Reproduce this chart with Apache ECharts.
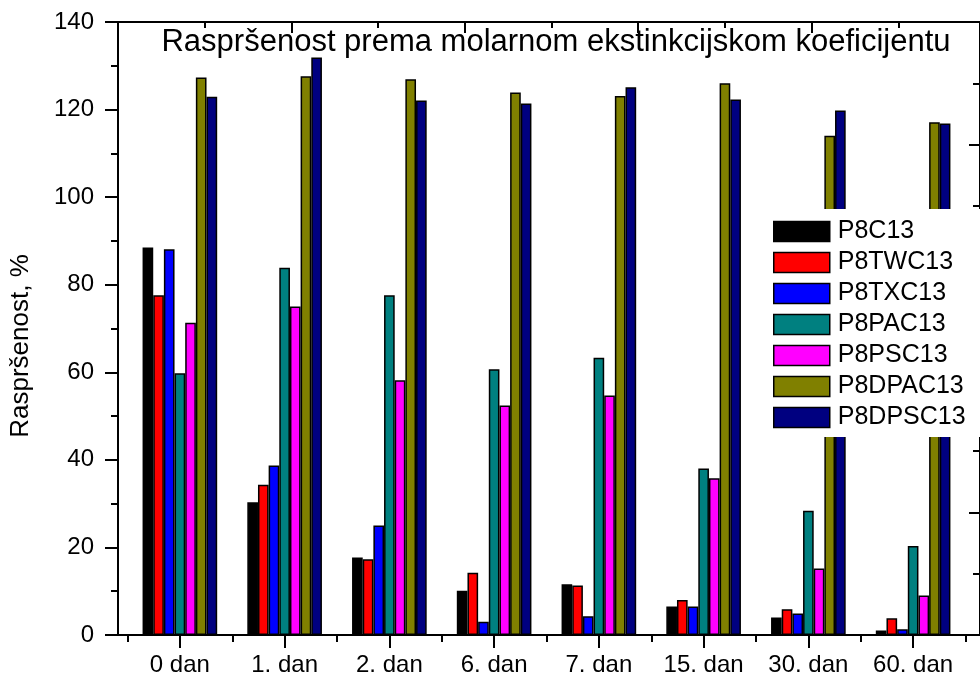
<!DOCTYPE html>
<html>
<head>
<meta charset="utf-8" />
<title>Raspršenost</title>
<script src="https://cdn.jsdelivr.net/npm/echarts@6/dist/echarts.min.js"></script>
<style>
  html, body { margin: 0; padding: 0; background: #fff; }
  #chart { width: 980px; height: 679px; }
</style>
</head>
<body>
<div id="chart"></div>
<script>
// kategorije (dani)
const days = ["0 dan", "1. dan", "2. dan", "6. dan", "7. dan", "15. dan", "30. dan", "60. dan"];

// vrijednosti po uzorku, %
const P8C13 = [88.5, 30.3, 17.7, 10.1, 11.6, 6.5, 4.0, 1.0];
const P8TWC13 = [77.6, 34.3, 17.3, 14.2, 11.3, 8.0, 5.9, 3.8];
const P8TXC13 = [88.1, 38.7, 25.0, 3.0, 4.3, 6.5, 4.9, 1.3];
const P8PAC13 = [59.8, 83.9, 77.6, 60.7, 63.3, 38.0, 28.4, 20.3];
const P8PSC13 = [71.3, 75.0, 58.2, 52.4, 54.7, 35.8, 15.2, 9.0];
const P8DPAC13 = [127.3, 127.6, 126.9, 123.9, 123.1, 126.0, 114.0, 117.1];
const P8DPSC13 = [122.9, 131.9, 122.1, 121.4, 125.1, 122.3, 119.8, 116.8];

const seriesNames = ["P8C13", "P8TWC13", "P8TXC13", "P8PAC13", "P8PSC13", "P8DPAC13", "P8DPSC13"];
const seriesData = [P8C13, P8TWC13, P8TXC13, P8PAC13, P8PSC13, P8DPAC13, P8DPSC13];
const seriesColors = ["#000000", "#ff0000", "#0000ff", "#008080", "#ff00ff", "#808000", "#000080"];

const font = 'Arial, "Liberation Sans", sans-serif';
const axisLine = { show: true, onZero: false, lineStyle: { color: "#000", width: 2 } };
const tickLine = { color: "#000", width: 2 };

const chart = echarts.init(document.getElementById("chart"));

const option = {
  backgroundColor: "#fff",
  animation: false,
  textStyle: { fontFamily: font },
  grid: [
    // okvir (osi) - desna os je malo izvan slike
    { left: 118, right: -3, top: 22, bottom: 44 },
    // stupci
    { left: 127.5, right: 14.5, top: 22, bottom: 44 },
  ],
  xAxis: [
    // gornja os - samo crtice
    {
      gridIndex: 0,
      type: "value",
      position: "top",
      min: 0,
      max: 4.971,
      interval: 1,
      axisLine: axisLine,
      axisTick: { show: true, inside: true, length: 11, lineStyle: tickLine },
      minorTick: { show: true, splitNumber: 2, length: 6, lineStyle: tickLine },
      axisLabel: { show: false },
      splitLine: { show: false },
    },
    // donja linija
    {
      gridIndex: 0,
      type: "value",
      position: "bottom",
      min: 0,
      max: 1,
      axisLine: axisLine,
      axisTick: { show: false },
      axisLabel: { show: false },
      splitLine: { show: false },
    },
    // kratke crtice izmedu kategorija
    {
      gridIndex: 1,
      type: "category",
      position: "bottom",
      data: days,
      axisLine: { show: false, onZero: false },
      axisTick: { show: true, interval: 0, length: 7, lineStyle: tickLine },
      axisLabel: { show: false },
    },
    // duge crtice + nazivi
    {
      gridIndex: 1,
      type: "category",
      position: "bottom",
      data: days,
      axisLine: { show: false, onZero: false },
      axisTick: { show: true, alignWithLabel: true, interval: 0, length: 13, lineStyle: tickLine },
      axisLabel: { interval: 0, color: "#000", fontSize: 24, margin: 18, fontFamily: font },
    },
  ],
  yAxis: [
    // lijeva os
    {
      gridIndex: 0,
      type: "value",
      position: "left",
      min: 0,
      max: 140,
      interval: 20,
      axisLine: axisLine,
      axisTick: { show: true, length: 13, lineStyle: tickLine },
      minorTick: { show: true, splitNumber: 2, length: 7, lineStyle: tickLine },
      axisLabel: { color: "#000", fontSize: 24, margin: 24, fontFamily: font },
      splitLine: { show: false },
    },
    // desna os - samo crtice
    {
      gridIndex: 0,
      type: "value",
      position: "right",
      min: 0,
      max: 5,
      interval: 1,
      axisLine: axisLine,
      axisTick: { show: true, inside: true, length: 11, lineStyle: tickLine },
      minorTick: { show: true, splitNumber: 2, length: 7, lineStyle: tickLine },
      axisLabel: { show: false },
      splitLine: { show: false },
    },
    // os za stupce
    { gridIndex: 1, type: "value", min: 0, max: 140, show: false },
  ],
  legend: {
    orient: "vertical",
    left: 769,
    top: 209,
    padding: [10, 20, 7, 4],
    backgroundColor: "#fff",
    icon: "rect",
    itemWidth: 56,
    itemHeight: 20,
    itemGap: 6,
    selectedMode: false,
    itemStyle: { borderColor: "#000", borderWidth: 1.5 },
    textStyle: { color: "#000", fontSize: 25, padding: [0, 0, 0, 3], fontFamily: font },
    data: seriesNames,
  },
  graphic: [
    {
      type: "text",
      x: 556,
      y: 42,
      style: {
        text: "Raspršenost prema molarnom ekstinkcijskom koeficijentu",
        font: "31px " + font,
        fill: "#000",
        textAlign: "center",
        textVerticalAlign: "middle",
      },
    },
    {
      type: "text",
      x: 21,
      y: 346,
      rotation: Math.PI / 2,
      style: {
        text: "Raspršenost, %",
        font: "26px " + font,
        fill: "#000",
        textAlign: "center",
        textVerticalAlign: "middle",
      },
    },
  ],
  series: seriesNames.map((name, i) => ({
    name: name,
    type: "bar",
    xAxisIndex: 3,
    yAxisIndex: 2,
    data: seriesData[i],
    barWidth: 10.66,
    barGap: "0%",
    itemStyle: { color: seriesColors[i], borderColor: "#000", borderWidth: 1.5 },
  })),
};

chart.setOption(option);
</script>
</body>
</html>
